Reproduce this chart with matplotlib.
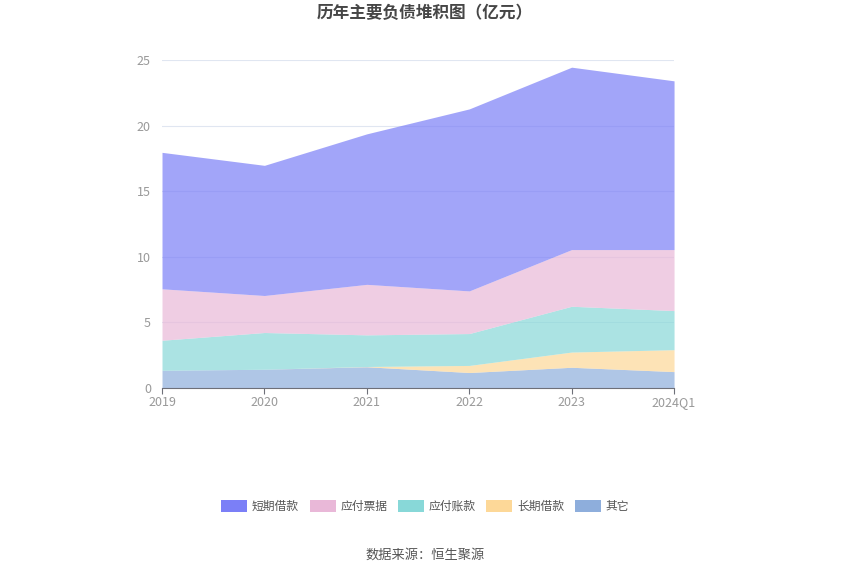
import numpy as np
import matplotlib.pyplot as plt
from matplotlib.patches import Patch

plt.rcParams['font.family'] = ['Noto Sans CJK SC', 'DejaVu Sans']

years = ['2019', '2020', '2021', '2022', '2023', '2024Q1']
other = [1.35, 1.43, 1.62, 1.18, 1.58, 1.25]
long_loan = [0.0, 0.0, 0.02, 0.54, 1.16, 1.67]
payable = [2.29, 2.80, 2.41, 2.43, 3.49, 2.98]
notes = [3.92, 2.82, 3.85, 3.25, 4.32, 4.65]
short_loan = [10.40, 9.92, 11.47, 13.87, 13.90, 12.86]

names = ['其它', '长期借款', '应付账款', '应付票据', '短期借款']
colors = ['#8eaedc', '#fdd898', '#88d8d8', '#e9b8d8', '#7b7ff7']
series = [other, long_loan, payable, notes, short_loan]

fig = plt.figure(figsize=(8.5, 5.75), dpi=100)
ax = fig.add_axes([0.1906, 0.3252, 0.6024, 0.5705])

x = np.arange(len(years))
base = np.zeros(len(years))
for vals, c in zip(series, colors):
    top = base + np.array(vals)
    ax.fill_between(x, base, top, color=c, alpha=0.7, linewidth=0)
    base = top

ax.set_xlim(0, len(years) - 1)
ax.set_ylim(0, 25)
ax.set_yticks([0, 5, 10, 15, 20, 25])
ax.set_xticks(x)
ax.set_xticklabels(years)
ax.grid(axis='y', color='#e0e6f1', linewidth=0.8)
ax.set_axisbelow(True)
for s in ['top', 'right', 'left']:
    ax.spines[s].set_visible(False)
ax.spines['bottom'].set_color('#6e7079')
ax.tick_params(axis='y', length=0, colors='#999999', labelsize=9, pad=8)
ax.tick_params(axis='x', length=4, color='#6e7079', colors='#999999', labelsize=9, pad=2)

fig.text(0.5, 0.977, '历年主要负债堆积图（亿元）', ha='center', va='center',
         fontsize=12, fontweight='bold', color='#464646')

handles = [Patch(facecolor=c, edgecolor='none', label=n)
           for n, c in zip(names[::-1], colors[::-1])]
fig.legend(handles=handles, loc='center', bbox_to_anchor=(0.5, 0.119), ncol=5,
           frameon=False, fontsize=8.5, handlelength=2.2, handleheight=1.1,
           columnspacing=0.9, handletextpad=0.4, labelcolor='#555555')

fig.text(0.5, 0.035, '数据来源：恒生聚源', ha='center', va='center',
         fontsize=9.5, color='#555555')

fig.savefig('out.png')
